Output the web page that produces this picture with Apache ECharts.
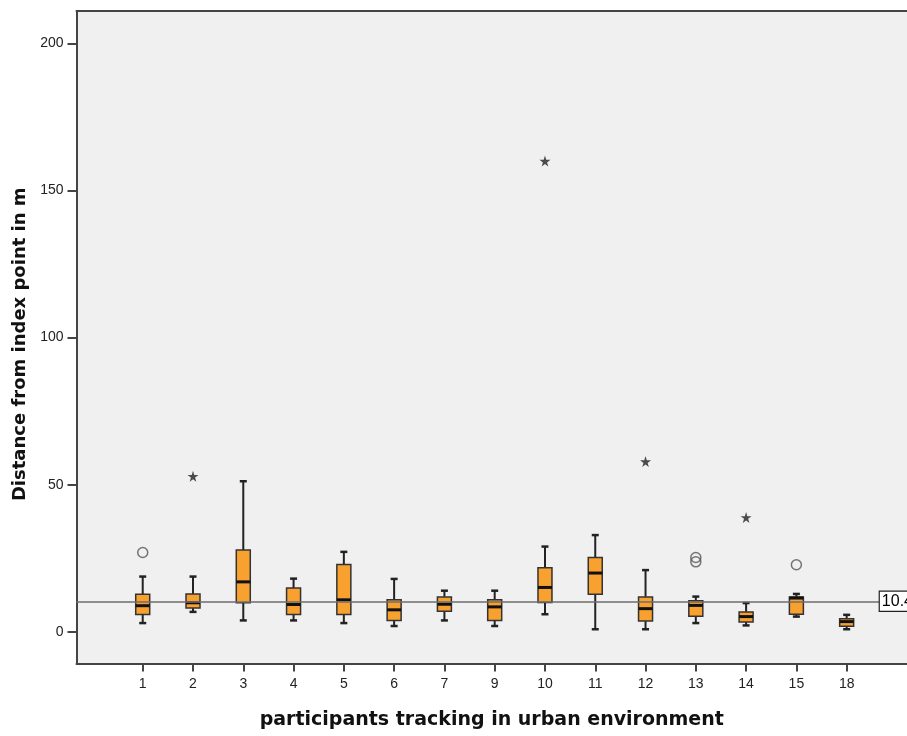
<!DOCTYPE html>
<html>
<head>
<meta charset="utf-8">
<script src="https://cdn.jsdelivr.net/npm/echarts@6/dist/echarts.min.js"></script>
<style>html,body{margin:0;padding:0;background:#fff;}#c{width:907px;height:736px;}</style>
</head>
<body>
<div id="c"></div>
<script>
var categories = ['1','2','3','4','5','6','7','9','10','11','12','13','14','15','18'];
var whiskerLow  = [3.0, 6.8, 3.9, 3.9, 3.0, 2.0, 3.9, 2.0, 6.0, 0.9, 0.9, 3.0, 2.2, 5.2, 0.9];
var q1          = [5.9, 8.1, 9.9, 5.9, 5.9, 3.9, 7.0, 3.9, 10.0, 12.8, 3.7, 5.3, 3.4, 6.0, 1.9];
var median      = [8.9, 9.9, 17.0, 9.3, 10.9, 7.5, 9.4, 8.5, 15.1, 20.0, 7.9, 9.0, 5.2, 11.5, 3.5];
var q3          = [12.8, 12.9, 27.8, 14.9, 22.9, 10.9, 11.9, 10.9, 21.8, 25.3, 11.9, 10.6, 6.8, 11.9, 4.5];
var whiskerHigh = [18.8, 18.8, 51.2, 18.1, 27.2, 18.0, 14.0, 14.0, 29.0, 32.9, 21.0, 12.0, 9.8, 12.9, 5.8];
var circleCats   = ['1', '13', '13', '15'];
var circleValues = [27.0, 25.3, 23.8, 22.8];
var starCats     = ['2', '10', '12', '14'];
var starValues   = [52.9, 160.0, 57.9, 38.9];
var refValue = 10.4;
var yTicks = [0, 50, 100, 150, 200];

var boxData = categories.map(function (c, i) {
  return [i, whiskerLow[i], q1[i], median[i], q3[i], whiskerHigh[i]];
});
var circleData = circleCats.map(function (c, i) { return [categories.indexOf(c), circleValues[i]]; });
var starData = starCats.map(function (c, i) { return [categories.indexOf(c), starValues[i]]; });
var xIdx = categories.map(function (c, i) { return i; });

var starPath = 'path://M50,0 L61,35 L98,35 L68,57 L79,91 L50,70 L21,91 L32,57 L2,35 L39,35 Z';
var xMin = -1.317, xMax = 15.2;

var chart = echarts.init(document.getElementById('c'), null, {renderer: 'canvas'});
chart.setOption({
  animation: false,
  backgroundColor: '#ffffff',
  grid: {
    left: 76.5, top: 11, right: 0, bottom: 72.5,
    show: true, backgroundColor: '#f0f0f0', borderWidth: 0
  },
  xAxis: [{
    type: 'value', min: xMin, max: xMax,
    name: 'participants tracking in urban environment',
    nameLocation: 'middle', nameGap: 47,
    nameTextStyle: {fontFamily: 'DejaVu Sans', fontWeight: 'bold', fontSize: 19, color: '#111'},
    splitLine: {show: false},
    axisLine: {show: true, onZero: false, lineStyle: {color: '#444', width: 2}},
    axisTick: {show: true, length: 8, customValues: xIdx, lineStyle: {color: '#444', width: 2}},
    axisLabel: {
      customValues: xIdx, margin: 14, fontFamily: 'Liberation Sans', fontSize: 14, color: '#222',
      formatter: function (v) { return categories[Math.round(v)]; }
    }
  }, {
    type: 'value', position: 'top', min: xMin, max: xMax,
    splitLine: {show: false},
    axisLine: {show: true, onZero: false, lineStyle: {color: '#444', width: 2}},
    axisTick: {show: false}, axisLabel: {show: false}
  }],
  yAxis: {
    type: 'value', min: -10.74, max: 211,
    name: 'Distance from index point in m',
    nameLocation: 'middle', nameGap: 47,
    nameTextStyle: {fontFamily: 'DejaVu Sans', fontWeight: 'bold', fontSize: 18, color: '#111', padding: [0, 14, 0, 0]},
    splitLine: {show: false},
    axisLine: {show: true, onZero: false, lineStyle: {color: '#444', width: 2}},
    axisTick: {show: true, length: 9, customValues: yTicks, lineStyle: {color: '#444', width: 2}},
    axisLabel: {
      customValues: yTicks, margin: 13, fontFamily: 'Liberation Sans', fontSize: 14, color: '#222'
    }
  },
  series: [
    {
      type: 'custom',
      data: boxData,
      z: 2,
      renderItem: function (params, api) {
        var x = api.value(0);
        var pLow = api.coord([x, api.value(1)]);
        var pQ1 = api.coord([x, api.value(2)]);
        var pMed = api.coord([x, api.value(3)]);
        var pQ3 = api.coord([x, api.value(4)]);
        var pHigh = api.coord([x, api.value(5)]);
        var cx = pQ1[0];
        var hw = 7, cw = 3.5;
        var dark = '#222';
        return {
          type: 'group',
          children: [
            {type: 'line', shape: {x1: cx, y1: pHigh[1], x2: cx, y2: pQ3[1]}, style: {stroke: dark, lineWidth: 2}},
            {type: 'line', shape: {x1: cx, y1: pQ1[1], x2: cx, y2: pLow[1]}, style: {stroke: dark, lineWidth: 2}},
            {type: 'line', shape: {x1: cx - cw, y1: pHigh[1], x2: cx + cw, y2: pHigh[1]}, style: {stroke: dark, lineWidth: 2.5}},
            {type: 'line', shape: {x1: cx - cw, y1: pLow[1], x2: cx + cw, y2: pLow[1]}, style: {stroke: dark, lineWidth: 2.5}},
            {type: 'rect', shape: {x: cx - hw, y: pQ3[1], width: 2 * hw, height: pQ1[1] - pQ3[1]},
              style: {fill: '#f9a12f', stroke: '#333', lineWidth: 1.5}},
            {type: 'line', shape: {x1: cx - hw, y1: pMed[1], x2: cx + hw, y2: pMed[1]}, style: {stroke: '#111', lineWidth: 3}}
          ]
        };
      }
    },
    {
      type: 'scatter',
      data: circleData,
      symbol: 'circle', symbolSize: 10,
      itemStyle: {color: 'rgba(0,0,0,0)', borderColor: '#555', borderWidth: 1.5},
      z: 3
    },
    {
      type: 'scatter',
      data: starData,
      symbol: starPath, symbolSize: 11,
      itemStyle: {color: '#222'},
      z: 3
    },
    {
      type: 'line',
      data: [],
      z: 5,
      markLine: {
        silent: true,
        symbol: ['none', 'none'],
        lineStyle: {color: 'rgba(110,110,110,0.75)', width: 2, type: 'solid'},
        label: {
          show: true, position: 'end', distance: 0,
          formatter: String(refValue),
          fontFamily: 'Liberation Sans', fontSize: 16, color: '#000',
          backgroundColor: '#fff', borderColor: '#222', borderWidth: 1.2,
          padding: [2, 3, 1, 2]
        },
        data: [[{coord: [xMin, refValue]}, {coord: [14.66, refValue]}]]
      }
    }
  ]
});
</script>
</body>
</html>
